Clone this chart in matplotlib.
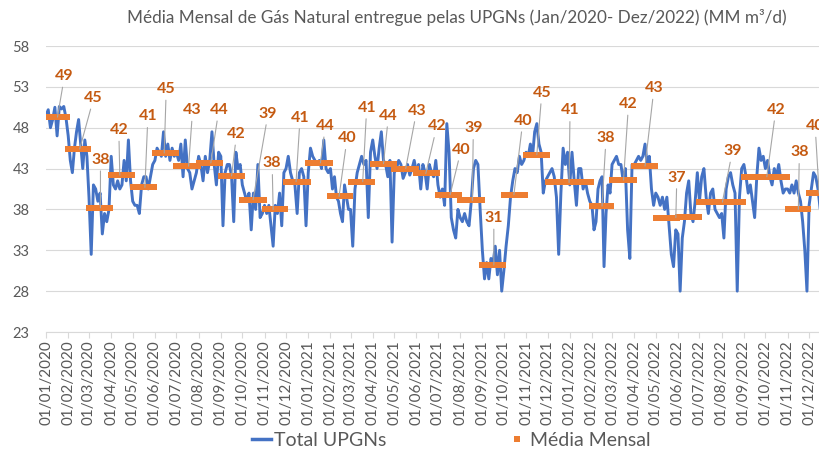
import numpy as np
import pandas as pd
import matplotlib
matplotlib.use("Agg")
import matplotlib.pyplot as plt
import matplotlib.dates as mdates
from matplotlib.lines import Line2D

plt.rcParams['font.family'] = ['Lato', 'DejaVu Sans']

TITLE = "Média Mensal de Gás Natural entregue pelas UPGNs (Jan/2020- Dez/2022) (MM m³/d)"
SERIES_NAMES = ["Total UPGNs", "Média Mensal"]

# ~10 readings per month (Jan..Dec)
upgns_2020 = [
    49.5, 50.2, 48.0, 49.0, 50.5, 47.0, 50.6, 50.3, 50.6, 49.2,
    47.0, 44.0, 42.5, 45.5, 47.5, 49.0, 46.0, 43.0, 46.5, 44.5,
    39.5, 32.5, 41.0, 40.5, 39.0, 40.0, 35.0, 37.5, 36.5, 38.0,
    44.5, 41.0, 40.5, 41.5, 40.5, 41.0, 44.0, 41.5, 46.5, 41.5,
    39.0, 38.5, 38.5, 37.5, 41.0, 42.0, 42.0, 40.5, 42.0, 43.5,
    44.0, 45.5, 45.0, 44.5, 47.5, 44.5, 46.0, 44.0, 45.5, 44.5,
    45.0, 44.0, 46.0, 42.0, 46.5, 43.0, 42.5, 40.5, 41.5, 42.5,
    44.5, 43.5, 41.5, 44.5, 42.5, 44.0, 47.5, 43.5, 41.0, 45.0,
    44.5, 36.0, 42.5, 43.5, 43.5, 42.0, 36.5, 45.0, 43.0, 43.5,
    41.0, 40.0, 39.0, 40.0, 35.5, 40.0, 38.0, 43.5, 37.0, 37.5,
    38.5, 37.5, 38.5, 36.0, 33.5, 38.5, 37.5, 40.0, 36.0, 42.5,
    43.0, 44.5, 42.5, 41.5, 41.0, 37.5, 42.5, 43.0, 42.0, 36.0,
]
upgns_2021 = [
    42.5, 45.5, 44.5, 44.0, 43.5, 44.0, 43.0, 46.5, 43.0, 42.5,
    43.0, 40.5, 42.0, 39.5, 39.0, 37.5, 36.5, 41.0, 39.5, 38.0,
    38.0, 33.5, 40.5, 42.5, 43.5, 44.5, 43.5, 44.0, 37.0, 45.0,
    46.5, 44.5, 43.0, 45.5, 47.5, 44.0, 43.5, 42.0, 44.0, 34.0,
    42.5, 43.0, 44.0, 43.5, 41.8, 42.5, 43.5, 42.2, 43.0, 44.0,
    42.5, 43.5, 40.5, 43.5, 42.5, 40.5, 43.5, 42.5, 42.0, 44.0,
    41.0, 39.5, 40.5, 38.5, 48.5, 45.0, 37.0, 35.5, 34.5, 38.0,
    37.0, 36.5, 37.5, 36.5, 36.0, 39.0, 43.0, 44.0, 43.5, 38.0,
    33.0, 29.5, 31.5, 29.5, 32.0, 31.5, 33.5, 30.0, 33.0, 28.0,
    30.5, 33.5, 36.0, 39.5, 41.5, 43.0, 42.5, 44.5, 43.5, 44.0,
    45.0, 44.5, 46.0, 44.5, 47.5, 48.5, 46.0, 45.0, 40.0, 41.5,
    42.0, 42.5, 43.0, 42.0, 39.5, 32.5, 40.0, 45.5, 43.5, 45.0,
]
upgns_2022 = [
    41.0, 45.0, 41.5, 38.5, 43.0, 43.0, 40.5, 41.5, 40.0, 39.0,
    38.5, 35.5, 36.5, 40.5, 41.5, 42.0, 31.0, 37.5, 41.0, 40.0,
    43.5, 44.0, 44.5, 43.5, 43.5, 41.5, 43.0, 35.5, 32.0, 43.5,
    43.5, 44.0, 44.5, 44.0, 44.5, 46.0, 43.5, 44.5, 40.5, 38.5,
    40.0, 39.5, 38.5, 39.5, 38.0, 39.5, 36.0, 32.5, 31.0, 35.5,
    35.0, 28.0, 34.5, 36.5, 40.0, 41.5, 37.5, 36.5, 39.0, 42.5,
    39.0, 42.0, 43.0, 39.5, 37.5, 40.0, 40.5, 38.0, 37.5, 37.0,
    37.5, 34.5, 40.5, 42.0, 42.5, 41.0, 40.0, 28.0, 39.5, 43.0,
    43.5, 42.0, 40.0, 41.0, 39.0, 37.0, 42.0, 45.5, 44.0, 44.5,
    43.0, 44.0, 42.0, 41.0, 43.0, 42.0, 43.5, 41.5, 40.0, 40.5,
    40.5, 40.0, 41.0, 40.0, 41.5, 40.0, 39.0, 36.5, 33.0, 28.0,
    38.5, 40.5, 42.5, 42.0, 40.5, 38.0, 41.5, 40.0, 39.0, 40.0,
]

media_2020 = [49.3, 45.4, 38.2, 42.2, 40.7, 44.9, 43.3, 43.7, 42.1, 39.2, 38.0, 41.4]
media_2021 = [43.7, 39.6, 41.4, 43.6, 43.0, 42.4, 39.8, 39.1, 31.2, 39.8, 44.7, 41.3]
media_2022 = [41.3, 38.4, 41.6, 43.3, 37.0, 37.1, 38.9, 38.9, 42.0, 42.0, 38.0, 40.0]

# data labels: anchor date on the monthly-mean series, offset of label (pixels)
label_dates = ["2020-01-17", "2020-02-17", "2020-03-17", "2020-04-13", "2020-05-18",
               "2020-06-14", "2020-07-18", "2020-08-18", "2020-09-16", "2020-10-16",
               "2020-11-13", "2020-12-15", "2021-01-18", "2021-02-13", "2021-03-18",
               "2021-04-16", "2021-05-17", "2021-06-14", "2021-07-18", "2021-08-18",
               "2021-09-17", "2021-10-15", "2021-11-16", "2021-12-31", "2022-02-15",
               "2022-03-17", "2022-04-16", "2022-05-29", "2022-08-02", "2022-10-03",
               "2022-11-16", "2022-12-15"]
label_dx = [7, 14, 0, -1, 3, 2, 4, 8, 5, 15, -1, 4, 5, 8, 4, 5, 11, 11, 11, 1,
            0, 9, 5, 1, 4, 5, 9, 1, 10, 9, 1, -4]
label_dy = [41, 51, 48, 45, 71, 64, 56, 53, 42, 86, 46, 64, 37, 58, 74, 48, 58, 47, 45, 72,
            47, 74, 62, 72, 68, 76, 78, 40, 51, 67, 57, 67]

BLUE = "#4472C4"
ORANGE = "#ED7D31"
LABEL_C = "#C55A11"
GRAY = "#595959"
GRID = "#D9D9D9"

# ---- build series ----
months = pd.date_range("2020-01-01", "2022-12-01", freq="MS")
vals = np.array(upgns_2020 + upgns_2021 + upgns_2022)
dates = []
for m in months:
    nd = m.days_in_month
    for k in range(10):
        dates.append(m + pd.Timedelta(days=k * nd / 10.0))
dates = pd.DatetimeIndex(dates)

media = np.array(media_2020 + media_2021 + media_2022)
days = pd.date_range("2020-01-01", "2022-12-31", freq="D")
media_daily = media[(days.year - 2020) * 12 + days.month - 1]

# ---- figure ----
W, H = 820, 451
fig = plt.figure(figsize=(W / 100, H / 100), dpi=100)
ax = fig.add_axes([46 / W, 1 - 332 / H, 784.6 / W, 286 / H])

ax.plot(dates, vals, color=BLUE, lw=2.1, zorder=3, solid_joinstyle="round")
ax.plot(days, media_daily, ls="none", marker="s", ms=4.9, color=ORANGE,
        markeredgewidth=0, zorder=4)

for d, dx, dy in zip(label_dates, label_dx, label_dy):
    dt = pd.Timestamp(d)
    v = media[(dt.year - 2020) * 12 + dt.month - 1]
    ax.annotate(f"{v:.0f}", xy=(dt, v), xytext=(dx, dy), textcoords="offset pixels",
                ha="center", va="center", fontsize=11.5, fontweight="bold", color=LABEL_C,
                arrowprops=dict(arrowstyle="-", color="#A6A6A6", lw=0.8,
                                shrinkA=1, shrinkB=0),
                zorder=5, annotation_clip=False)

ax.set_xlim(pd.Timestamp("2020-01-01"), pd.Timestamp("2022-12-31"))
ax.set_ylim(23, 58)
ax.set_yticks(np.arange(23, 59, 5))
ax.set_xticks(months)
ax.xaxis.set_major_formatter(mdates.DateFormatter("%d/%m/%Y"))
ax.tick_params(axis="x", rotation=90, labelsize=11, labelcolor=GRAY, length=4,
               color=GRID, width=0.8, pad=2)
ax.tick_params(axis="y", labelsize=10.5, labelcolor=GRAY, length=0, pad=12)
ax.grid(axis="y", color=GRID, lw=0.8)
ax.set_axisbelow(True)
for s in ["left", "right", "top"]:
    ax.spines[s].set_visible(False)
ax.spines["bottom"].set_color(GRID)
ax.spines["bottom"].set_linewidth(0.8)

fig.text(457 / W, 1 - 18 / H, TITLE, ha="center", va="center", fontsize=12.3, color=GRAY)

handles = [Line2D([], [], color=BLUE, lw=2.5),
           Line2D([], [], ls="none", marker="s", ms=4.5, color=ORANGE, markeredgewidth=0)]
fig.legend(handles, SERIES_NAMES, loc="center", bbox_to_anchor=(451 / W, 1 - 440 / H),
           ncol=2, frameon=False, fontsize=14, handlelength=1.0, handletextpad=0.15,
           columnspacing=6.2, labelcolor=GRAY, borderpad=0)

fig.savefig("out.png", dpi=100)
